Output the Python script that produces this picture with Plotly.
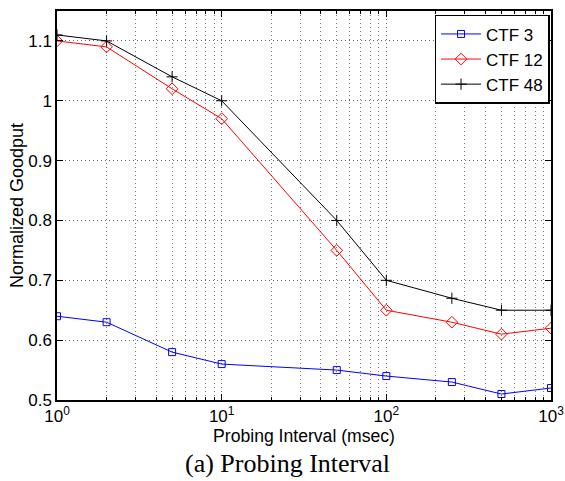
import plotly.graph_objects as go

x_ms = [1, 2, 5, 10, 50, 100, 250, 500, 1000]
ctf3 = [0.64, 0.63, 0.58, 0.56, 0.55, 0.54, 0.53, 0.51, 0.52]
ctf12 = [1.10, 1.09, 1.02, 0.97, 0.75, 0.65, 0.63, 0.61, 0.62]
ctf48 = [1.11, 1.10, 1.04, 1.00, 0.80, 0.70, 0.67, 0.65, 0.65]

x_tickvals = [1, 10, 100, 1000]
x_ticktext = ["10<sup>0</sup>", "10<sup>1</sup>", "10<sup>2</sup>", "10<sup>3</sup>"]
minor_vals = [m * d for d in [1, 10, 100] for m in range(2, 10)]
y_tickvals = [0.5, 0.6, 0.7, 0.8, 0.9, 1.0, 1.1]
y_ticktext = ["0.5", "0.6", "0.7", "0.8", "0.9", "1", "1.1"]

fig = go.Figure()
fig.add_trace(go.Scatter(x=x_ms, y=ctf3, name="CTF 3", mode="lines+markers",
                         line=dict(color="#0000ff", width=1),
                         marker=dict(symbol="square-open", size=7, color="#0000ff", line=dict(width=1))))
fig.add_trace(go.Scatter(x=x_ms, y=ctf12, name="CTF 12", mode="lines+markers",
                         line=dict(color="#ff0000", width=1),
                         marker=dict(symbol="diamond-open", size=9, color="#ff0000", line=dict(width=1))))
fig.add_trace(go.Scatter(x=x_ms, y=ctf48, name="CTF 48", mode="lines+markers",
                         line=dict(color="#000000", width=1),
                         marker=dict(symbol="cross-thin", size=8, color="#000000", line=dict(width=1, color="#000000"))))

fig.update_layout(
    width=565, height=481,
    margin=dict(l=57, r=14, t=11, b=81),
    paper_bgcolor="white", plot_bgcolor="white",
    font=dict(family="Liberation Sans, Arial, sans-serif", size=16, color="black"),
    showlegend=True,
    legend=dict(x=0.997, y=0.99, xanchor="right", yanchor="top",
                bordercolor="black", borderwidth=1.5, bgcolor="white",
                font=dict(size=17), tracegroupgap=0, itemwidth=40),
    annotations=[dict(text="(a) Probing Interval", x=0.4666, xref="paper", y=-0.162, yref="paper",
                      xanchor="center", yanchor="middle", showarrow=False,
                      font=dict(family="Liberation Serif, Times New Roman, serif", size=26, color="black"))],
)
fig.update_xaxes(type="log", range=[0, 3], tickvals=x_tickvals, ticktext=x_ticktext,
                 ticks="inside", ticklen=6, tickcolor="black", mirror="ticks",
                 showline=True, linecolor="black", linewidth=1.5,
                 showgrid=True, gridcolor="#666666", griddash="1px,3px", gridwidth=1,
                 zeroline=False, automargin=False,
                 minor=dict(tickvals=minor_vals, ticks="inside", ticklen=3, tickcolor="black",
                            showgrid=True, gridcolor="#777777", griddash="1px,3px", gridwidth=1),
                 title=dict(text="Probing Interval (msec)", font=dict(size=17.6), standoff=2),
                 tickfont=dict(size=17))
fig.update_yaxes(range=[0.5, 1.15], tickvals=y_tickvals, ticktext=y_ticktext,
                 ticks="inside", ticklen=6, tickcolor="black", mirror="ticks",
                 showline=True, linecolor="black", linewidth=1.5,
                 showgrid=True, gridcolor="#666666", griddash="1px,3px", gridwidth=1,
                 zeroline=False, automargin=False,
                 title=dict(text="Normalized Goodput", font=dict(size=18), standoff=0),
                 tickfont=dict(size=17))

fig.write_html("out.html")
